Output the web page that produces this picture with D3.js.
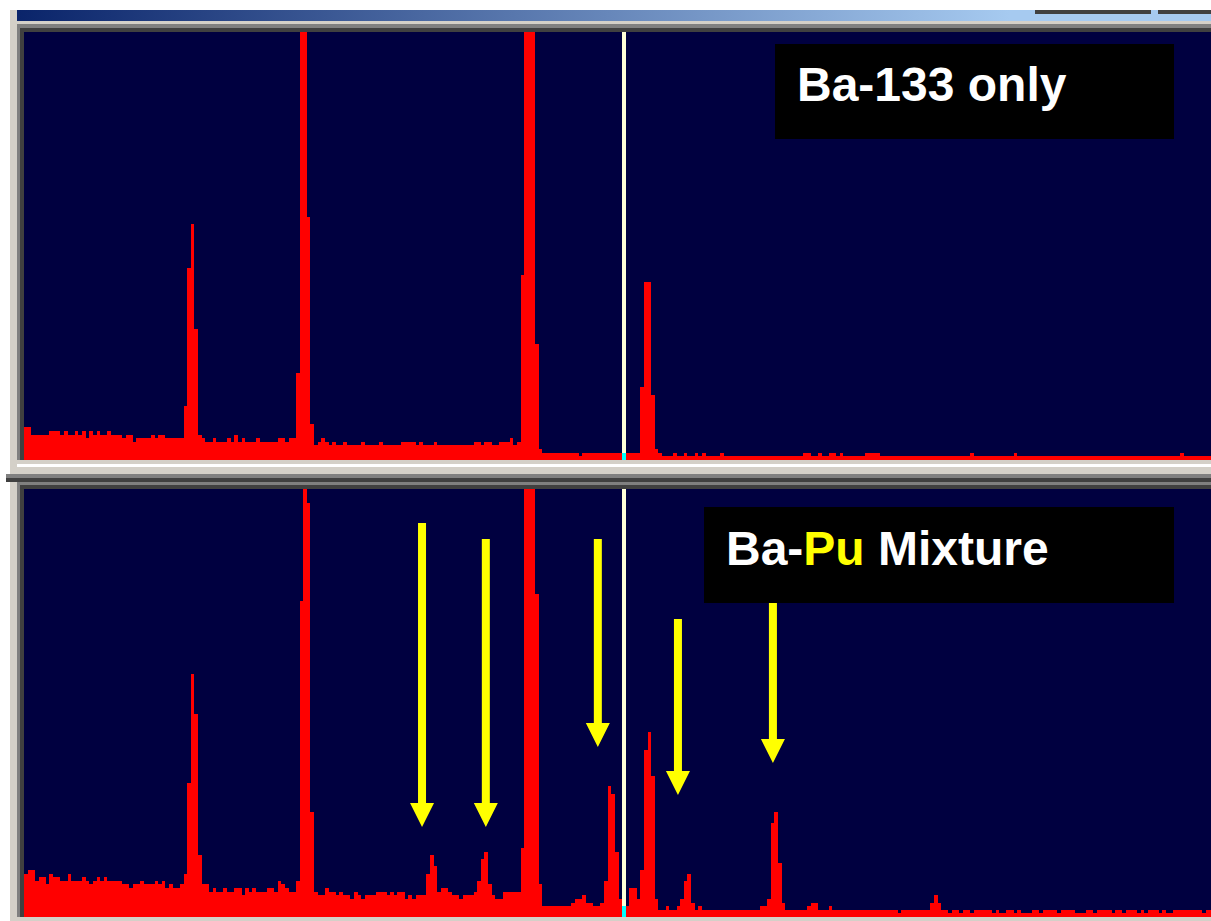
<!DOCTYPE html>
<html>
<head>
<meta charset="utf-8">
<script src="https://cdn.jsdelivr.net/npm/d3@7/dist/d3.min.js"></script>
<style>
  body { margin: 0; background: #ffffff; }
  svg { display: block; }
  .label { font-family: "Liberation Sans", Arial, sans-serif; font-weight: bold; font-size: 48px; }
</style>
</head>
<body>
<svg id="chart" width="1211" height="921"></svg>
<script>
// counts per channel, Ba-133 source alone (full scale of the display = 428)
const baOnly = [
  33,33,25,25,25,25,25,29,29,29,
  25,29,25,25,29,25,29,22,29,25,
  29,25,25,29,25,25,25,22,25,25,
  18,22,22,22,22,25,22,25,25,22,
  22,22,22,22,54,192,236,131,25,22,
  18,18,22,18,18,18,22,18,25,18,
  22,18,18,18,22,18,18,18,18,18,
  22,22,18,22,22,87,600,600,243,36,
  15,18,22,18,15,18,15,15,18,15,
  15,15,15,18,15,15,15,15,18,15,
  15,15,15,15,18,18,18,18,15,18,
  15,15,15,18,15,15,15,15,15,15,
  15,15,15,15,18,18,15,18,18,15,
  15,18,18,18,22,15,18,185,600,600,
  600,116,11,7,7,7,7,7,7,7,
  7,7,7,4,7,7,7,7,7,7,
  7,7,7,7,7,7,7,7,7,7,
  73,178,178,65,11,7,4,4,4,7,
  4,4,7,4,4,7,4,7,4,4,
  4,4,7,4,4,4,4,4,4,4,
  4,4,4,4,4,4,4,4,4,4,
  4,4,4,4,4,7,7,4,4,7,
  4,4,7,7,4,7,4,4,4,4,
  4,4,7,7,7,7,4,4,4,4,
  4,4,4,4,4,4,4,4,4,4,
  4,4,4,4,4,4,4,4,4,4,
  4,7,4,4,4,4,4,4,4,4,
  4,4,4,7,4,4,4,4,4,4,
  4,4,4,4,4,4,4,4,4,4,
  4,4,4,4,4,4,4,4,4,4,
  4,4,4,4,4,4,4,4,4,4,
  4,4,4,4,4,4,4,4,4,7,
  4,4,4,4,4,4,4,4
];

// counts per channel, Ba-133 + Pu mixture
const baPuMix = [
  43,47,47,36,40,40,33,43,40,40,
  36,36,43,36,36,36,40,36,33,36,
  40,36,40,36,36,36,36,33,33,29,
  33,33,36,33,33,33,36,33,36,29,
  33,29,29,33,43,134,243,203,62,33,
  33,25,29,25,25,29,25,25,29,29,
  22,29,25,29,25,25,25,29,29,25,
  36,33,29,25,25,36,316,600,414,105,
  25,22,22,29,25,25,22,25,22,22,
  18,25,22,18,22,22,22,25,25,25,
  22,25,22,25,25,18,22,18,22,22,
  22,43,62,51,25,29,29,25,22,22,
  18,22,22,22,25,36,58,65,33,22,
  18,18,25,25,25,25,25,69,600,600,
  600,323,33,11,11,11,11,11,11,11,
  11,14,18,18,22,14,14,11,11,14,
  36,131,123,65,18,11,11,29,29,18,
  47,167,185,141,18,7,7,11,7,7,
  11,18,36,43,14,7,11,7,7,7,
  7,7,7,7,7,7,7,7,7,7,
  7,7,7,11,11,18,94,105,54,14,
  7,7,7,7,7,7,11,14,14,7,
  7,7,11,7,7,7,7,7,7,7,
  7,7,7,7,7,7,7,7,7,7,
  7,4,7,7,7,7,7,7,7,7,
  14,22,14,7,7,4,7,7,4,7,
  7,4,7,7,7,7,7,4,7,4,
  4,7,7,4,7,4,4,4,7,7,
  4,7,7,7,7,4,7,7,7,7,
  4,4,4,7,7,4,7,7,7,7,
  4,7,7,4,7,7,7,4,7,4,
  7,7,7,4,7,4,4,7,7,7,
  7,7,7,7,7,4,7,7
];

const fullScale = 428;
const cursorChannel = 165;

// Pu peaks marked with arrows (channel, arrow top count, arrow tip count)
const arrowChannels = [109.8, 127.4, 158.3, 180.4, 206.6];
const arrowTops = [394, 378, 378, 298, 330];
const arrowTips = [90, 90, 170, 122, 154];

const panelLabels = ["Ba-133 only", "Ba-Pu Mixture"];

const svg = d3.select("#chart");
const W = 1211;

const plotLeft = 24, chanWidth = 3.625;
const panels = [
  { top: 32, bottom: 460, values: baOnly },
  { top: 489, bottom: 917, values: baPuMix }
];

const x = d3.scaleLinear()
  .domain([0, baOnly.length])
  .range([plotLeft, plotLeft + baOnly.length * chanWidth]);

const defs = svg.append("defs");
const grad = defs.append("linearGradient")
  .attr("id", "titlebar")
  .attr("gradientUnits", "userSpaceOnUse")
  .attr("x1", 17).attr("x2", 1010).attr("y1", 0).attr("y2", 0);
grad.append("stop").attr("offset", 0).attr("stop-color", "#0a246a");
grad.append("stop").attr("offset", 1).attr("stop-color", "#a6caf0");

/* window frame */
function box(x0, y0, w, h, fill) {
  svg.append("rect")
    .attr("x", x0).attr("y", y0).attr("width", w).attr("height", h)
    .attr("fill", fill).attr("shape-rendering", "crispEdges");
}

box(10, 10, 7, 911, "#d4d0c8");
box(17, 10, W - 17, 11, "url(#titlebar)");
box(1035, 10, 116, 4, "#404040");
box(1158, 10, W - 1158, 4, "#404040");
box(17, 21, W - 17, 3, "#d4d0c8");
box(17, 24, W - 17, 4, "#808080");
box(20, 28, W - 20, 4, "#404040");
box(17, 28, 3, 432, "#808080");
box(20, 32, 4, 428, "#404040");

box(17, 460, W - 17, 4, "#d4d0c8");
box(17, 464, W - 17, 3, "#ffffff");
box(10, 467, W - 10, 7, "#d4d0c8");
box(6, 474, W - 6, 4, "#808080");
box(6, 478, W - 6, 4, "#404040");
box(17, 482, W - 17, 3, "#808080");
box(20, 485, W - 20, 4, "#404040");
box(17, 485, 3, 432, "#808080");
box(20, 489, 4, 428, "#404040");
box(17, 917, W - 17, 4, "#d4d0c8");

/* spectra */
panels.forEach(function(p, pi) {
  const y = d3.scaleLinear().domain([0, fullScale]).range([p.bottom, p.top]);

  const clipId = "clip" + pi;
  defs.append("clipPath").attr("id", clipId)
    .append("rect")
    .attr("x", plotLeft).attr("y", p.top)
    .attr("width", W - plotLeft).attr("height", p.bottom - p.top);

  const g = svg.append("g").attr("clip-path", "url(#" + clipId + ")");

  g.append("rect")
    .attr("x", plotLeft).attr("y", p.top)
    .attr("width", W - plotLeft).attr("height", p.bottom - p.top)
    .attr("fill", "#000040");

  g.selectAll("rect.bar")
    .data(p.values)
    .enter()
    .append("rect")
    .attr("class", "bar")
    .attr("shape-rendering", "crispEdges")
    .attr("x", (d, i) => x(i))
    .attr("width", (d, i) => x(i + 1) - x(i))
    .attr("y", d => y(d))
    .attr("height", d => y(0) - y(d))
    .attr("fill", (d, i) => i == cursorChannel ? "#00ffff" : "#ff0000");

  // cursor
  g.append("rect")
    .attr("shape-rendering", "crispEdges")
    .attr("x", x(cursorChannel))
    .attr("width", 4)
    .attr("y", p.top)
    .attr("height", y(p.values[cursorChannel]) - p.top)
    .attr("fill", "#ffffd8");

  if (pi == 1) {
    arrowChannels.forEach(function(c, i) {
      const cx = x(c), yTop = y(arrowTops[i]), yTip = y(arrowTips[i]);
      const head = 24;
      const path = d3.path();
      path.moveTo(cx - 4, yTop);
      path.lineTo(cx + 4, yTop);
      path.lineTo(cx + 4, yTip - head);
      path.lineTo(cx + 12, yTip - head);
      path.lineTo(cx, yTip);
      path.lineTo(cx - 12, yTip - head);
      path.lineTo(cx - 4, yTip - head);
      path.closePath();
      g.append("path").attr("d", path.toString()).attr("fill", "#ffff00");
    });
  }
});

/* labels */
svg.append("rect").attr("x", 775).attr("y", 44).attr("width", 399).attr("height", 95).attr("fill", "#000000");
svg.append("text").attr("class", "label")
  .attr("x", 797).attr("y", 101)
  .attr("fill", "#ffffff")
  .text(panelLabels[0]);

svg.append("rect").attr("x", 704).attr("y", 507).attr("width", 470).attr("height", 96).attr("fill", "#000000");
const t2 = svg.append("text").attr("class", "label")
  .attr("x", 726).attr("y", 565)
  .attr("fill", "#ffffff");
t2.append("tspan").text(panelLabels[1].slice(0, 3));
t2.append("tspan").attr("fill", "#ffff00").text(panelLabels[1].slice(3, 5));
t2.append("tspan").text(panelLabels[1].slice(5));
</script>
</body>
</html>
